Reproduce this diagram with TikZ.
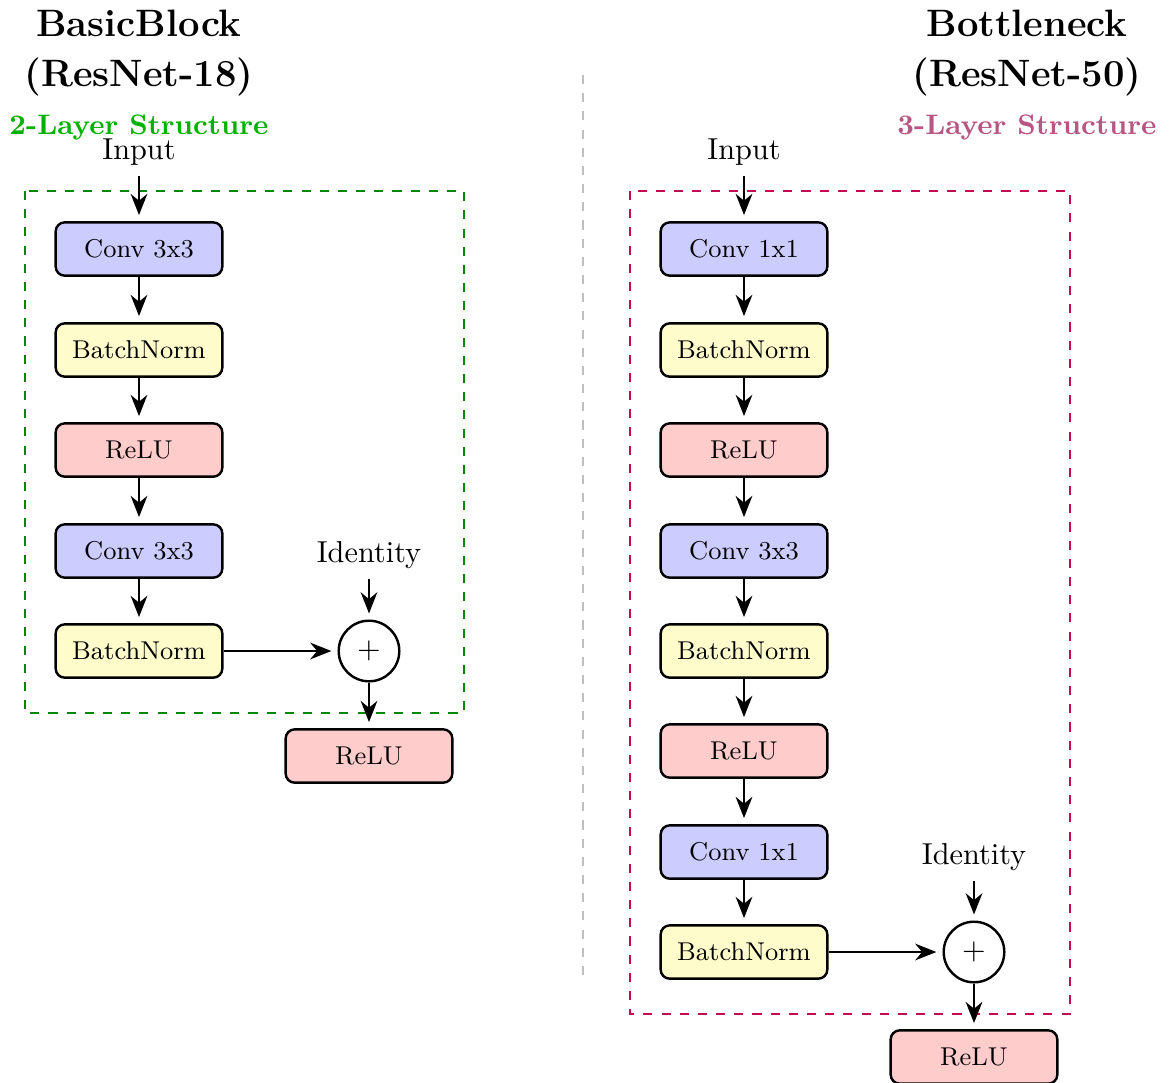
\documentclass[tikz,border=0pt]{standalone}
\usepackage{fix-cm}
\usetikzlibrary{arrows.meta}
\definecolor{titlegreen}{RGB}{0,178,0}
\definecolor{boxgreen}{RGB}{0,135,0}
\definecolor{boxpurple}{RGB}{196,10,80}
\definecolor{titlepurple}{RGB}{185,85,130}
\begin{document}
\begin{tikzpicture}[x=0.33pt,y=-0.33pt,
  layer/.style={draw,thick,rounded corners=3pt,minimum width=55pt,minimum height=17.6pt,
    inner sep=0pt,font=\fontsize{8.5}{10}\selectfont},
  conv/.style={layer,fill=blue!20},
  bn/.style={layer,fill=yellow!20},
  relu/.style={layer,fill=red!20},
  addop/.style={draw,thick,circle,minimum size=20pt,inner sep=0pt},
  flow/.style={-{Stealth[length=7pt,width=5.5pt]},thick,shorten >=2pt},
  title/.style={font=\fontsize{12.6}{15}\selectfont\bfseries,align=center},
  subtitle/.style={font=\fontsize{9.3}{11}\selectfont\bfseries},
  frame/.style={thick,dashed}]
\useasboundingbox (0,0) rectangle (1170,1082);

% separator
\draw[gray!50,thick,dashed] (583,75) -- (583,975);

% ---------- BasicBlock ----------
\node[title] (tA) at (139,53) {BasicBlock\\[1.5pt](ResNet-18)};
\node[subtitle,text=titlegreen] (sA) at (139,127) {2-Layer Structure};
\draw[frame,boxgreen] (25,191) rectangle (464,713);
\node (inA) at (139,152) {Input};
\node[conv] (a1) at (139,249) {Conv 3x3};
\node[bn]   (a2) at (139,350) {BatchNorm};
\node[relu] (a3) at (139,450) {ReLU};
\node[conv] (a4) at (139,551) {Conv 3x3};
\node[bn]   (a5) at (139,651) {BatchNorm};
\node[addop] (addA) at (369,651) {$+$};
\node (idA) at (369,555) {Identity};
\node[relu] (outA) at (369,756) {ReLU};
\draw[flow] (inA) -- (a1);
\draw[flow] (a1) -- (a2);
\draw[flow] (a2) -- (a3);
\draw[flow] (a3) -- (a4);
\draw[flow] (a4) -- (a5);
\draw[flow] (a5) -- (addA);
\draw[flow] (idA) -- (addA);
\draw[flow] (addA) -- (outA);

% ---------- Bottleneck ----------
\node[title] (tB) at (1027,53) {Bottleneck\\[1.5pt](ResNet-50)};
\node[subtitle,text=titlepurple] (sB) at (1027,127) {3-Layer Structure};
\draw[frame,boxpurple] (630,191) rectangle (1070,1014);
\node (inB) at (744,152) {Input};
\node[conv] (b1) at (744,249) {Conv 1x1};
\node[bn]   (b2) at (744,350) {BatchNorm};
\node[relu] (b3) at (744,450) {ReLU};
\node[conv] (b4) at (744,551) {Conv 3x3};
\node[bn]   (b5) at (744,651) {BatchNorm};
\node[relu] (b6) at (744,751) {ReLU};
\node[conv] (b7) at (744,852) {Conv 1x1};
\node[bn]   (b8) at (744,952) {BatchNorm};
\node[addop] (addB) at (974,952) {$+$};
\node (idB) at (974,857) {Identity};
\node[relu] (outB) at (974,1057) {ReLU};
\draw[flow] (inB) -- (b1);
\draw[flow] (b1) -- (b2);
\draw[flow] (b2) -- (b3);
\draw[flow] (b3) -- (b4);
\draw[flow] (b4) -- (b5);
\draw[flow] (b5) -- (b6);
\draw[flow] (b6) -- (b7);
\draw[flow] (b7) -- (b8);
\draw[flow] (b8) -- (addB);
\draw[flow] (idB) -- (addB);
\draw[flow] (addB) -- (outB);
\end{tikzpicture}
\end{document}
